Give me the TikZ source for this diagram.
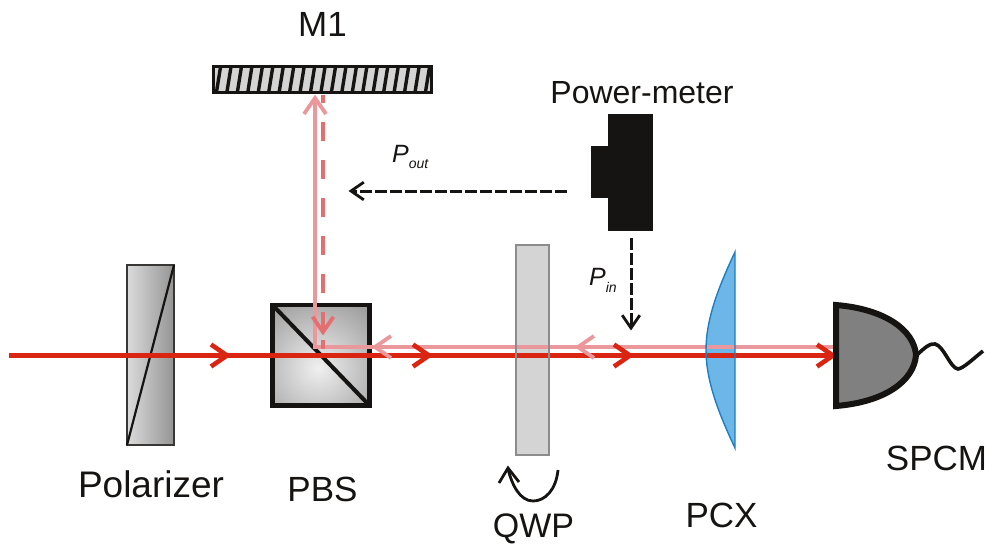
\documentclass[tikz,border=0pt]{standalone}
\usepackage{fontspec}
\setmainfont{Liberation Sans}
\definecolor{beamred}{HTML}{DA2512}
\definecolor{beampink}{HTML}{EA989B}
\definecolor{dashpink}{HTML}{E46F70}
\definecolor{ink}{HTML}{161412}
\definecolor{lensfill}{HTML}{6CB6E8}
\definecolor{lensedge}{HTML}{1F7FC0}
\tikzset{
  x=1pt,y=-1pt,
  lab/.style={anchor=base,inner sep=0pt,font=\fontsize{35}{38}\selectfont,text=ink},
  sym/.style={anchor=base west,inner sep=0pt,font=\fontsize{25}{28}\selectfont\itshape,text=ink},
  chevron/.pic={\draw[line join=miter,pic actions] (-16,-11) -- (0,0) -- (-16,11);},
  redbeam/.style={draw=beamred,line width=4.2pt},
  pinkbeam/.style={draw=beampink,line width=3.8pt},
  blackdash/.style={draw=ink,line width=3pt,dash pattern=on 12pt off 3pt},
}
\begin{document}
\begin{tikzpicture}
\useasboundingbox (0,0) rectangle (992,550);
% anchor points
\coordinate (in) at (9,355.5);
\coordinate (det) at (833,355.5);
\coordinate (split) at (315,347);
\coordinate (detp) at (835,347);
\coordinate (mir) at (315,98);
\coordinate (mird) at (323,95);
\coordinate (dtip) at (323,332);
% polarizer
\shade[left color=black!14,right color=black!42] (127,265) rectangle (174,445);
\draw[draw=ink!85,line width=1.8pt] (127,265) rectangle (174,445);
\draw[draw=ink,line width=2.2pt] (174,265) -- (127,445);
% PBS
\begin{scope}
\clip (271,303) rectangle (371,407);
\shade[inner color=black!6,outer color=black!42] (318,368) circle (85);
\end{scope}
\draw[draw=ink,line width=4.4pt] (272.5,305) rectangle (369.5,405.5);
\draw[draw=ink,line width=4pt] (272.5,305) -- (369.5,405.5);
% QWP
\fill[black!17] (516,245) rectangle (549,455);
% lens
\fill[lensfill] (735,252) .. controls (716,292) and (706,322) .. (706,350) .. controls (706,378) and (716,408) .. (735,448) -- cycle;
% M1
\fill[black!17] (212,65) rectangle (433,94);
\begin{scope}
\clip (213.5,66.5) rectangle (431.5,92.5);
\foreach \i in {0,...,21}{
  \draw[draw=ink,line width=3.4pt] ({216+10.45*\i},95) -- ({221+10.45*\i},64);
}
\end{scope}
\draw[draw=ink,line width=3.4pt] (213.5,66.5) rectangle (431.5,92.5);
% beams
\draw[pinkbeam] (mir) -- (split) -- (detp);
\draw[draw=dashpink,line width=3.8pt,dash pattern=on 19pt off 19pt,dash phase=11pt] (mird) -- (dtip);
\draw[draw=dashpink,line width=3.8pt] (323,340) -- (323,349);
\draw[redbeam] (in) -- (det);
\path (375,347) pic[draw=beampink,line width=3.8pt,rotate=180] {chevron};
\path (578,347) pic[draw=beampink,line width=3.8pt,rotate=180] {chevron};
\path (mir) pic[draw=beampink,line width=3.8pt,rotate=90] {chevron};
\path (dtip) pic[draw=dashpink,line width=3.8pt,rotate=-90,scale=0.95] {chevron};
\path (227,355.5) pic[draw=beamred,line width=4.6pt] {chevron};
\path (429,355.5) pic[draw=beamred,line width=4.6pt] {chevron};
\path (630,355.5) pic[draw=beamred,line width=4.6pt] {chevron};
\path (det) pic[draw=beamred,line width=4.6pt] {chevron};
% outlines over the beams
\draw[draw=black!45,line width=1.8pt] (516,245) rectangle (549,455);
\draw[draw=lensedge,line width=1.4pt] (735,252) .. controls (716,292) and (706,322) .. (706,350) .. controls (706,378) and (716,408) .. (735,448) -- cycle;
% detector
\draw[draw=ink,fill=black!50,line width=6pt,line join=miter] (836,305) .. controls (885,309) and (914,330) .. (916,355) .. controls (914,381) and (885,402) .. (836,406) -- cycle;
\draw[draw=ink,line width=3.6pt] (916,356) .. controls (924,348) and (930,343) .. (935,344) .. controls (944,346) and (950,368) .. (958,369) .. controls (964,368) and (974,358) .. (983,351);
% power meter
\fill[ink] (608,114) rectangle (653,231);
\fill[ink] (591,146) rectangle (608,198);
% black dashed arrows
\coordinate (pmleft) at (567,191);
\coordinate (pout) at (351,191);
\coordinate (pmdown) at (631,238);
\coordinate (pin) at (631,328);
\draw[blackdash] (pmleft) -- (pout);
\draw[blackdash] (pmdown) -- (pin);
\path (pout) pic[draw=ink,line width=2.8pt,rotate=180,scale=0.8] {chevron};
\path (pin) pic[draw=ink,line width=2.8pt,rotate=-90,scale=0.8] {chevron};
% rotation arrow
\draw[draw=ink,line width=2.8pt] (558,470) .. controls (556,490) and (545,501) .. (533,501) .. controls (520,501) and (512,485) .. (508,469);
\draw[draw=ink,line width=2.8pt] (499,483) -- (508,468) -- (519,482);
% labels
\node[lab] (m1) at (322.5,36) {M1};
\node[lab,font=\fontsize{32}{36}\selectfont] (pm) at (642,103) {Power-meter};
\node[lab,font=\fontsize{37}{40}\selectfont] (pol) at (151,497) {Polarizer};
\node[lab] (pbs) at (322.5,501) {PBS};
\node[lab,font=\fontsize{34}{38}\selectfont] (qwp) at (533.5,537) {QWP};
\node[lab] (pcx) at (721.5,527) {PCX};
\node[lab] (spcm) at (936.5,470) {SPCM};
\node[sym] (poutl) at (392,162) {P\raisebox{-6pt}{\fontsize{14}{16}\selectfont out}};
\node[sym] (pinl) at (589,285) {P\raisebox{-7pt}{\fontsize{14}{16}\selectfont in}};
\end{tikzpicture}
\end{document}
